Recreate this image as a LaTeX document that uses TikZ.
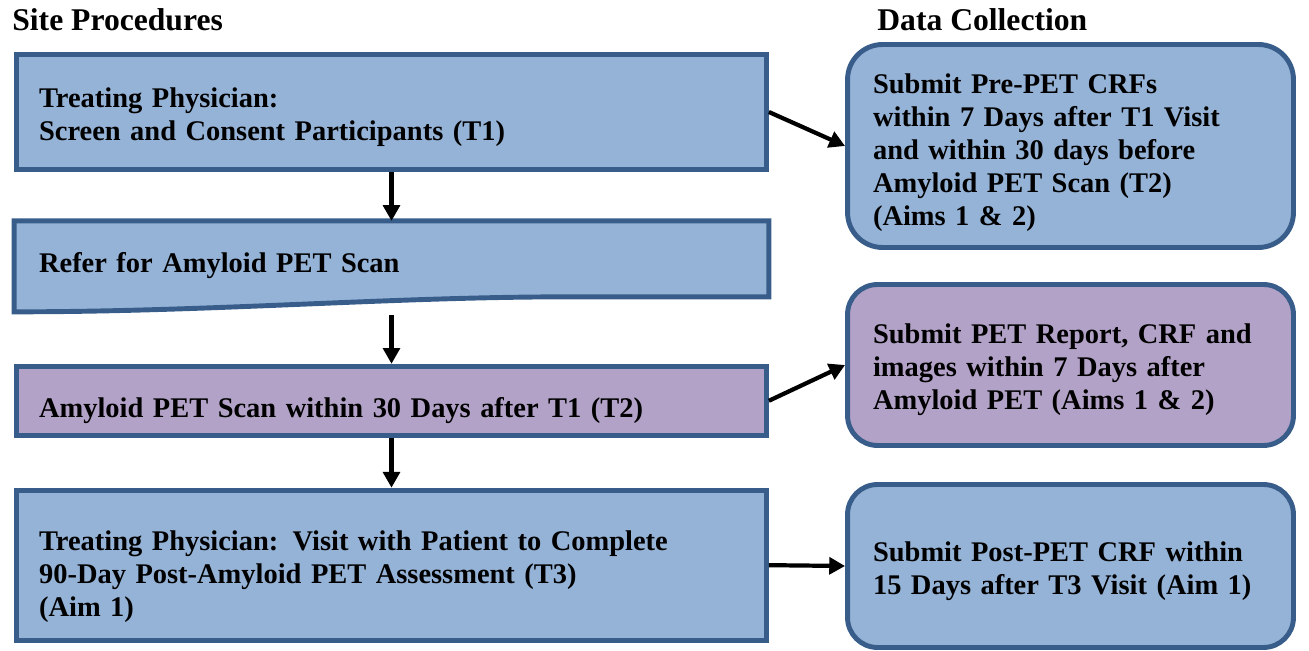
\documentclass[tikz,border=0pt]{standalone}
\usepackage{fontspec}
\setmainfont{Liberation Serif}
\usetikzlibrary{positioning,arrows.meta,backgrounds}

\definecolor{stepblue}{HTML}{95B3D7}
\definecolor{steppurple}{HTML}{B3A2C7}
\definecolor{edgeblue}{HTML}{385D8A}

\begin{document}
\begin{tikzpicture}[
    x=0.02cm, y=-0.02cm,
    font=\fontsize{16.2}{18.8}\selectfont\bfseries,
    % the strut pushes the text a little below the middle of the box
    boxtext/.style={align=left, execute at begin node={\rule{0pt}{#1}}},
    boxtext/.default=17pt,
    site/.style={rectangle, draw=edgeblue, line width=2.8pt, fill=stepblue, boxtext,
        minimum width=15cm, text width=14.1cm, inner xsep=0.43cm},
    data/.style={rectangle, rounded corners=0.6cm, draw=edgeblue, line width=2.8pt,
        fill=stepblue, boxtext, minimum width=8.92cm, text width=7.9cm, inner xsep=0.51cm},
    link/.style={-{Triangle[length=9pt,width=9.5pt]}, line width=2.4pt},
    heading/.style={anchor=base west, inner sep=0pt, font=\fontsize{18}{20}\selectfont\bfseries}
]
    \useasboundingbox (0,0) rectangle (1309,651);

    % Column headings
    \node[heading] (sitehead) at (12,31) {Site Procedures};
    \node[heading] (datahead) at (877,31) {Data Collection};

    % Site procedures
    \node[site, minimum height=2.3cm] (screen) at (391.5,112)
        {Treating Physician:\\Screen and Consent Participants (T1)};
    \node[site, boxtext=19pt, draw=none, fill=none, minimum height=1.42cm, below=0.98cm of screen] (refer)
        {Refer for Amyloid PET Scan};
    \node[site, boxtext=22.6pt, fill=steppurple, minimum height=1.38cm, below=1.34cm of refer] (scan)
        {Amyloid PET Scan within 30 Days after T1 (T2)};
    \node[site, boxtext=24pt, minimum height=3.0cm, below=1.0cm of scan] (assess)
        {Treating Physician: Visit with Patient to Complete\\90-Day Post-Amyloid PET Assessment (T3)\\(Aim 1)};

    % document shape behind the referral step
    \begin{scope}[on background layer]
        \draw[edgeblue, line width=2.8pt, fill=stepblue, line join=miter]
            (refer.north west) -- (refer.north east) -- (refer.south east)
            -- ++(-200,0) .. controls +(-180,0) and +(200,0) .. ([yshift=-0.3cm]refer.south west)
            -- cycle;
    \end{scope}

    % Data collection
    \node[data, boxtext=19pt, rounded corners=0.7cm, minimum height=4.06cm] (precrf) at (1070.5,146)
        {Submit Pre-PET CRFs\\within 7 Days after T1 Visit\\and within 30 days before\\Amyloid PET Scan (T2)\\(Aims 1 \& 2)};
    \node[data, fill=steppurple, minimum height=3.22cm] (report) at (1070.5,365)
        {Submit PET Report, CRF and\\images within 7 Days after\\Amyloid PET (Aims 1 \& 2)};
    \node[data, minimum height=3.26cm] (postcrf) at (1070.5,566)
        {Submit Post-PET CRF within\\15 Days after T3 Visit (Aim 1)};

    % Flow
    \draw[link] (screen) -- (refer);
    \draw[link] ([yshift=-0.36cm]refer.south) -- (scan);
    \draw[link] (scan) -- (assess);

    \draw[link] (screen.east) -- (precrf.west);
    \draw[link] (scan.east) -- (report.west);
    \draw[link] (assess.east) -- (postcrf.west);
\end{tikzpicture}
\end{document}
